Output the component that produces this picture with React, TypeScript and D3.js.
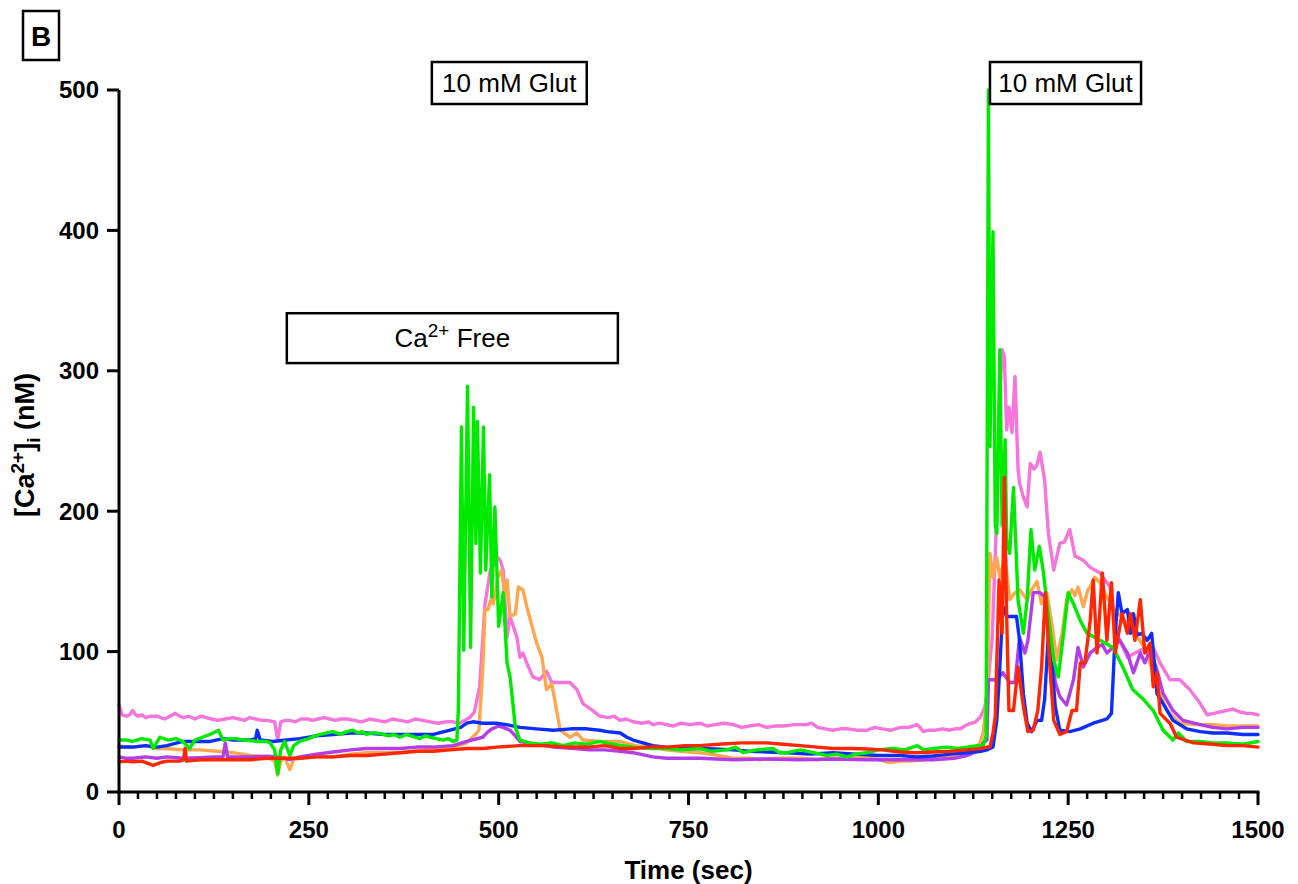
import React from 'react';
import * as d3 from 'd3';

// [time (sec), [Ca2+]i (nM)]
const pinkTrace: [number, number][] = [
  [0,62],[4,55],[10,54],[14,55],[18,58],[22,55],[25,54],[30,55],[35,53],[42,54],[50,54],[55,53],[60,52],[67,54],[74,56],[80,54],[85,53],[92,54],[100,52],[108,54],[115,53],[122,52],[130,51],[140,52],[150,53],[158,52],[165,51],[172,53],[180,52],[188,51],[195,51],[205,50],[209,37],[213,50],[219,51],[225,51],[232,50],[240,52],[248,52],[255,51],[262,52],[270,53],[278,52],[285,51],[292,52],[300,52],[310,51],[320,50],[330,52],[340,51],[350,50],[360,52],[370,51],[380,50],[390,52],[400,51],[410,50],[420,49],[430,50],[440,50],[448,49],[455,51],[462,53],[468,57],[475,75],[482,134],[489,158],[499,167],[502,165],[506,158],[511,110],[515,125],[524,110],[528,96],[532,99],[537,92],[545,82],[554,80],[563,86],[570,78],[581,78],[594,78],[603,73],[611,63],[624,58],[633,54],[645,53],[652,54],[660,51],[668,52],[677,50],[690,49],[697,50],[703,48],[712,49],[721,48],[730,47],[740,49],[752,48],[765,49],[775,47],[785,48],[797,49],[809,48],[820,46],[830,47],[842,48],[853,46],[864,47],[875,47],[890,48],[906,48],[912,49],[920,46],[930,45],[940,44],[950,45],[960,45],[972,44],[985,44],[995,46],[1005,45],[1017,44],[1029,46],[1040,46],[1051,48],[1055,46],[1059,43],[1066,44],[1075,44],[1085,45],[1094,44],[1101,45],[1108,45],[1117,48],[1128,50],[1134,53],[1140,60],[1143,70],[1150,110],[1156,200],[1160,280],[1163,315],[1166,310],[1169,258],[1172,274],[1176,256],[1180,296],[1184,230],[1186,220],[1191,210],[1196,203],[1200,234],[1205,230],[1209,233],[1213,242],[1219,222],[1224,184],[1231,158],[1239,177],[1245,178],[1252,187],[1259,168],[1270,165],[1279,160],[1292,156],[1305,146],[1314,113],[1328,96],[1345,101],[1362,103],[1371,92],[1384,80],[1397,80],[1410,73],[1424,63],[1433,55],[1442,56],[1450,57],[1458,58],[1467,59],[1476,57],[1485,56],[1492,56],[1500,55],
];

const orangeTrace: [number, number][] = [
  [0,33],[10,32],[18,32],[35,33],[50,31],[63,31],[84,30],[107,30],[129,29],[150,28],[173,26],[195,25],[205,22],[209,12],[213,22],[218,25],[225,16],[230,23],[238,24],[260,25],[282,25],[305,27],[326,28],[350,28],[370,28],[392,29],[414,30],[440,32],[458,35],[471,42],[474,44],[479,87],[482,130],[486,130],[491,139],[493,134],[499,153],[504,158],[508,139],[511,151],[515,125],[522,127],[526,146],[532,144],[537,132],[544,118],[550,106],[557,96],[563,73],[570,77],[577,56],[581,44],[594,39],[603,42],[611,37],[633,36],[660,36],[680,33],[703,32],[721,30],[740,29],[765,28],[790,26],[809,24],[830,24],[844,23],[870,24],[897,24],[920,23],[940,24],[965,24],[985,25],[1000,23],[1015,21],[1030,22],[1042,22],[1060,23],[1072,24],[1090,25],[1107,26],[1125,30],[1134,35],[1138,42],[1143,66],[1147,170],[1151,153],[1156,167],[1160,153],[1167,167],[1173,137],[1180,142],[1186,144],[1196,137],[1202,144],[1209,150],[1215,134],[1222,142],[1229,118],[1235,94],[1242,113],[1248,137],[1255,144],[1259,140],[1263,146],[1270,132],[1276,144],[1279,146],[1285,153],[1292,149],[1300,140],[1310,130],[1320,125],[1330,118],[1340,112],[1354,99],[1367,75],[1380,58],[1397,49],[1420,48],[1441,48],[1460,47],[1480,47],[1500,47],
];

const purpleTrace: [number, number][] = [
  [0,25],[10,24],[18,24],[35,25],[50,24],[63,25],[84,24],[107,24.5],[125,25],[137,25],[140,35],[143,25],[160,25],[173,25],[195,25.5],[209,25],[218,24],[225,23],[238,25],[260,27],[282,28.5],[305,30],[326,31],[350,31],[370,31],[392,32],[414,32],[440,33],[458,36],[479,39],[484,42],[491,45],[500,47],[506,46],[515,44],[522,40],[528,36],[550,34],[572,32],[600,31],[620,30],[640,30],[660,29],[677,28],[703,25],[721,24],[740,24],[765,24],[809,23],[850,23.5],[897,23],[940,23.5],[985,23],[1030,23],[1072,23],[1100,24],[1117,26],[1134,30],[1138,35],[1143,37],[1145,80],[1156,80],[1164,85],[1173,78],[1180,78],[1186,110],[1193,99],[1197,108],[1204,142],[1213,142],[1219,139],[1226,113],[1233,78],[1239,68],[1248,62],[1257,80],[1263,103],[1270,89],[1279,99],[1288,103],[1295,105],[1301,99],[1309,103],[1318,108],[1328,99],[1336,85],[1345,99],[1351,92],[1358,101],[1367,87],[1375,70],[1388,58],[1401,51],[1424,48],[1440,46],[1459,45],[1480,46],[1500,46],
];

const blueTrace: [number, number][] = [
  [0,32],[10,32],[18,32],[35,33],[50,32],[63,33],[84,36],[100,36],[120,36],[137,38],[150,37],[173,37],[180,38],[182,44],[186,37],[203,36],[220,37],[238,38],[260,40],[282,41],[305,42],[326,42],[350,41],[370,41],[392,41],[414,41],[436,44],[450,46],[458,49],[466,50],[479,49],[497,49],[510,48],[528,46],[550,45],[572,44],[595,45],[616,45],[633,44],[643,43],[660,42],[669,39],[677,37],[690,35],[703,33],[720,32],[743,31],[770,31],[809,30],[830,29],[853,28.5],[880,28],[910,27],[940,28],[970,27],[1000,26],[1029,26],[1050,25],[1072,25.6],[1095,27],[1117,28],[1135,29],[1143,30],[1151,32],[1156,51],[1160,89],[1164,132],[1169,125],[1182,125],[1186,108],[1191,70],[1196,49],[1202,43],[1209,51],[1215,51],[1219,66],[1224,113],[1229,89],[1233,61],[1239,44],[1252,43],[1266,45],[1283,49],[1295,51],[1301,52],[1307,56],[1312,113],[1316,142],[1321,127],[1328,130],[1332,113],[1336,127],[1341,112],[1347,113],[1354,108],[1360,113],[1367,70],[1375,63],[1388,51],[1406,45],[1424,43],[1440,42],[1459,42],[1480,41],[1500,41],
];

const greenTrace: [number, number][] = [
  [0,37],[10,37],[18,36],[30,38],[41,37],[45,31],[54,39],[65,37],[75,38],[84,36],[93,31],[100,37],[110,39],[120,41],[131,44],[137,37],[145,38],[155,38],[165,37],[182,36],[195,36],[199,35],[205,30],[209,13],[213,30],[218,36],[225,26],[230,33],[238,36],[250,38],[258,40],[265,41],[273,42],[282,43],[291,41],[300,43],[308,44],[315,42],[320,43],[326,41],[333,42],[340,42],[348,41],[355,40],[362,41],[370,39],[378,41],[385,40],[390,39],[396,38],[403,40],[410,39],[418,38],[427,37],[434,38],[440,36],[445,37],[447,60],[451,260],[454,101],[459,289],[463,103],[467,274],[470,177],[472,264],[476,156],[480,260],[483,158],[488,226],[491,139],[495,203],[500,118],[506,142],[511,92],[515,82],[522,46],[528,37],[540,35],[555,34],[570,35],[585,33],[600,35],[615,34],[633,36],[650,34],[677,32],[700,31],[721,31],[740,30],[765,31],[780,29],[800,30],[812,32],[822,28],[840,30],[861,31],[870,28],[880,28],[897,30],[915,28],[932,26],[945,27],[959,25],[970,27],[985,28],[1000,30],[1019,31],[1035,30],[1051,33],[1060,30],[1072,31],[1090,32],[1105,31],[1117,32],[1130,33],[1138,33],[1142,40],[1145,500],[1147,246],[1151,399],[1154,190],[1156,184],[1160,315],[1163,190],[1167,251],[1169,180],[1173,170],[1178,217],[1184,137],[1191,113],[1196,137],[1201,187],[1206,158],[1212,175],[1217,158],[1224,125],[1231,94],[1237,82],[1244,113],[1250,142],[1257,134],[1266,122],[1275,113],[1292,108],[1309,103],[1322,89],[1335,73],[1349,66],[1362,58],[1375,44],[1388,37],[1395,42],[1406,36],[1424,36],[1440,35],[1459,35],[1480,34],[1500,36],
];

const redTrace: [number, number][] = [
  [0,21.5],[10,22],[18,21.5],[30,22],[45,19],[55,21],[63,22],[80,22],[85,23],[87,31],[89,22],[107,23],[130,23],[150,23],[173,23],[195,24],[209,24],[238,24],[260,25],[282,25],[305,26],[326,26],[350,27],[370,28],[392,29],[414,29],[436,30],[458,31],[480,31],[497,32],[528,33],[560,33],[590,32],[616,32],[640,33],[660,31],[677,31],[700,32],[721,32],[745,33],[765,33],[790,34],[820,35],[853,35],[875,34],[897,33],[920,32],[940,31],[965,31],[985,30.6],[1005,30],[1029,28.5],[1050,28],[1072,28.5],[1095,29],[1117,30],[1135,31],[1143,32],[1147,32],[1151,42],[1154,54],[1159,151],[1163,113],[1166,224],[1169,125],[1172,58],[1178,58],[1184,89],[1191,61],[1197,43],[1204,44],[1210,58],[1215,89],[1220,142],[1226,89],[1231,51],[1239,41],[1248,43],[1255,58],[1261,58],[1266,92],[1272,92],[1279,122],[1283,151],[1288,99],[1295,156],[1301,108],[1307,149],[1312,99],[1321,127],[1328,113],[1332,127],[1338,108],[1345,137],[1351,99],[1358,106],[1362,75],[1367,85],[1371,56],[1384,49],[1393,39],[1415,35],[1440,34],[1459,33],[1480,33],[1500,32],
];

const traces = [
  { name: 'pink', color: '#f774dc', data: pinkTrace },
  { name: 'orange', color: '#ffa64f', data: orangeTrace },
  { name: 'purple', color: '#b33de6', data: purpleTrace },
  { name: 'blue', color: '#0b2eff', data: blueTrace },
  { name: 'green', color: '#00ea00', data: greenTrace },
  { name: 'red', color: '#ff2600', data: redTrace },
];

const xMajorTicks = [0, 250, 500, 750, 1000, 1250, 1500];
const yMajorTicks = [0, 100, 200, 300, 400, 500];

// annotation boxes (time span in sec)
const glutBoxes = [
  { label: '10 mM Glut', t0: 412, t1: 616 },
  { label: '10 mM Glut', t0: 1147, t1: 1346 },
];
const caFreeBox = { t0: 221, t1: 657, vTop: 341, vBottom: 305.5 };

const W = 1298;
const H = 884;
const margin = { left: 119, right: 40, top: 90, bottom: 92 };
const font = '"Liberation Sans", Arial, Helvetica, sans-serif';

export default function App() {
  const x = d3.scaleLinear().domain([0, 1500]).range([margin.left, W - margin.right]);
  const y = d3.scaleLinear().domain([0, 500]).range([H - margin.bottom, margin.top]);
  const line = d3
    .line<[number, number]>()
    .x(d => x(d[0]))
    .y(d => y(d[1]));

  const minorTicks = d3.range(0, 1501, 25).filter(t => t % 250 !== 0);
  const y0 = y(0);
  const x0 = x(0);

  return (
    <svg width={W} height={H} style={{ position: 'absolute', left: 0, top: 0, background: '#fff' }} fontFamily={font}>
      {/* panel letter */}
      <rect x={23} y={11} width={36} height={49} fill="none" stroke="#000" strokeWidth={2.5} />
      <text x={41} y={46} textAnchor="middle" fontSize={28} fontWeight="bold">B</text>

      {/* traces */}
      <g fill="none" strokeWidth={3.4} strokeLinejoin="round" strokeLinecap="round">
        {traces.map(tr => (
          <path key={tr.name} d={line(tr.data) || ''} stroke={tr.color} />
        ))}
      </g>

      {/* axes */}
      <g stroke="#000" strokeWidth={3}>
        <line x1={x0} x2={x0} y1={y(500)} y2={y0 + 1.5} />
        <line x1={x0 - 1.5} x2={x(1500) + 1.5} y1={y0} y2={y0} />
        {yMajorTicks.map(v => (
          <line key={'yt' + v} x1={x0 - 12} x2={x0} y1={y(v)} y2={y(v)} />
        ))}
        {xMajorTicks.map(t => (
          <line key={'xt' + t} x1={x(t)} x2={x(t)} y1={y0} y2={y0 + 13} />
        ))}
        {minorTicks.map(t => (
          <line key={'xm' + t} x1={x(t)} x2={x(t)} y1={y0} y2={y0 + 7} strokeWidth={2.5} />
        ))}
      </g>
      <g fontSize={24} fontWeight="bold">
        {yMajorTicks.map(v => (
          <text key={'yl' + v} x={x0 - 20} y={y(v)} dy="0.35em" textAnchor="end">{v}</text>
        ))}
        {xMajorTicks.map(t => (
          <text key={'xl' + t} x={x(t)} y={y0 + 46} textAnchor="middle">{t}</text>
        ))}
        <text x={(x(0) + x(1500)) / 2} y={y0 + 87} textAnchor="middle" fontSize={26}>Time (sec)</text>
        <text transform={`translate(34, ${(y(0) + y(500)) / 2 + 4}) rotate(-90)`} textAnchor="middle" fontSize={27}>
          [Ca<tspan fontSize={19} dy={-10}>2+</tspan><tspan dy={10}>]</tspan><tspan fontSize={19} dy={6}>i</tspan><tspan dy={-6}> (nM)</tspan>
        </text>
      </g>

      {/* annotations */}
      <g fontSize={26}>
        {glutBoxes.map((b, i) => (
          <g key={'g' + i}>
            <rect x={x(b.t0)} y={62} width={x(b.t1) - x(b.t0)} height={42} fill="#fff" stroke="#000" strokeWidth={2.5} />
            <text x={(x(b.t0) + x(b.t1)) / 2} y={92} textAnchor="middle">{b.label}</text>
          </g>
        ))}
        <rect
          x={x(caFreeBox.t0)}
          y={y(caFreeBox.vTop)}
          width={x(caFreeBox.t1) - x(caFreeBox.t0)}
          height={y(caFreeBox.vBottom) - y(caFreeBox.vTop)}
          fill="#fff"
          stroke="#000"
          strokeWidth={2.5}
        />
        <text x={(x(caFreeBox.t0) + x(caFreeBox.t1)) / 2} y={347} textAnchor="middle">
          Ca<tspan fontSize={19} dy={-10}>2+</tspan><tspan dy={10}> Free</tspan>
        </text>
      </g>
    </svg>
  );
}
